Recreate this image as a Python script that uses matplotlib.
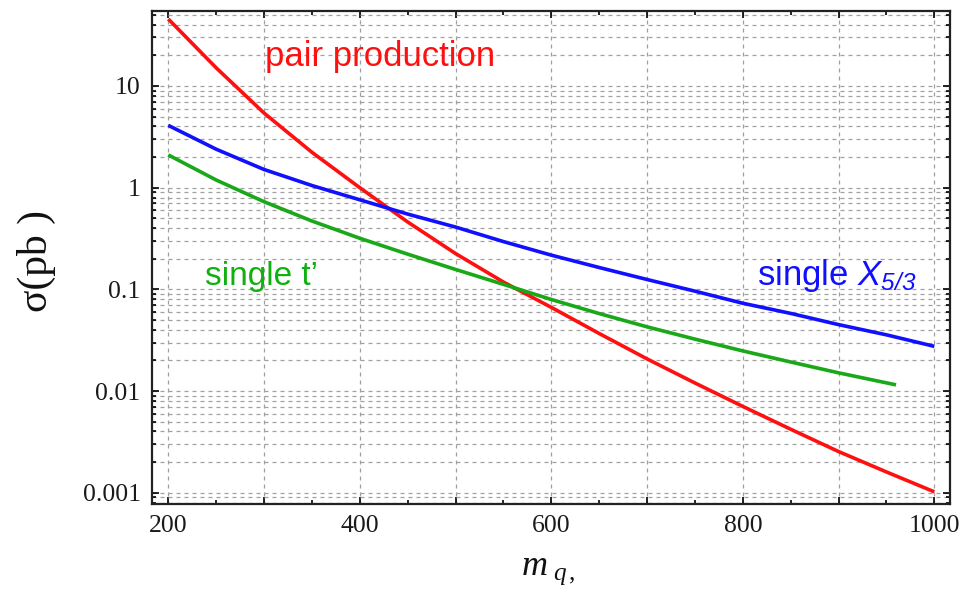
import matplotlib
matplotlib.use("Agg")
import matplotlib.pyplot as plt
from matplotlib.ticker import MultipleLocator, LogLocator, FuncFormatter, NullFormatter

plt.rcParams['mathtext.fontset'] = 'custom'
plt.rcParams['mathtext.rm'] = 'Liberation Serif'
plt.rcParams['mathtext.it'] = 'Liberation Serif:italic'
plt.rcParams['mathtext.sf'] = 'Liberation Sans:italic'

# masses (GeV) and cross sections (pb)
mass = [200, 250, 300, 350, 400, 450, 500, 550, 600, 650, 700, 750, 800, 850, 900, 950, 1000]
pair_xs = [45.6, 15.1, 5.42, 2.23, 1.0, 0.46, 0.225, 0.118, 0.0665, 0.0368, 0.0207, 0.012,
           0.00706, 0.00421, 0.00254, 0.0016, 0.00102]
x53_xs = [4.1, 2.39, 1.51, 1.05, 0.76, 0.55, 0.41, 0.295, 0.217, 0.164, 0.125, 0.096,
          0.073, 0.058, 0.045, 0.0357, 0.0275]
mass_t = [200, 250, 300, 350, 400, 450, 500, 550, 600, 650, 700, 750, 800, 850, 900, 960]
tprime_xs = [2.1, 1.19, 0.728, 0.47, 0.318, 0.222, 0.157, 0.112, 0.0795, 0.0578, 0.0428,
             0.0324, 0.0248, 0.0193, 0.0151, 0.0115]

red = '#ff1010'
blue = '#1010ff'
green = '#18a818'

fig = plt.figure(figsize=(9.65, 5.92), dpi=100)
ax = fig.add_axes([0.1572, 0.1486, 0.8273, 0.8333])

ax.plot(mass, pair_xs, color=red, lw=2.6, solid_capstyle='butt')
ax.plot(mass, x53_xs, color=blue, lw=2.6, solid_capstyle='butt')
ax.plot(mass_t, tprime_xs, color=green, lw=2.6, solid_capstyle='butt')

ax.set_yscale('log')
ax.set_xlim(182.7, 1016.4)
ax.set_ylim(7.74e-4, 55.0)

ax.xaxis.set_major_locator(MultipleLocator(100))
ax.xaxis.set_minor_locator(MultipleLocator(50))
ax.xaxis.set_major_formatter(FuncFormatter(lambda v, p: '%d' % v if int(round(v)) % 200 == 0 else ''))
ax.yaxis.set_major_locator(LogLocator(base=10, numticks=20))
ax.yaxis.set_minor_locator(LogLocator(base=10, subs=range(2, 10), numticks=20))
ax.yaxis.set_major_formatter(FuncFormatter(lambda v, p: '%g' % v))
ax.yaxis.set_minor_formatter(NullFormatter())

ax.tick_params(which='both', direction='in', top=True, right=True, width=1.2, colors='black')
ax.tick_params(which='major', length=5, labelsize=18.5, pad=8)
ax.tick_params(which='minor', length=3)
for lab in ax.get_xticklabels() + ax.get_yticklabels():
    lab.set_family('Liberation Serif')
    lab.set_color('#1a1a1a')

grid_style = dict(color='#a0a0a0', lw=0.9, linestyle=(0, (3.2, 3.2)))
ax.grid(True, which='major', axis='x', **grid_style)
ax.grid(True, which='both', axis='y', **grid_style)
ax.set_axisbelow(True)

for sp in ax.spines.values():
    sp.set_linewidth(1.6)
    sp.set_color('#222222')

ax.set_ylabel('σ(pb )', fontsize=30, family='Liberation Serif', color='#111111')
ax.yaxis.set_label_coords(-0.1437, 0.4926)
ax.yaxis.label.set_va('center')
ax.set_xlabel(r'$m_{\ q\,,}$', fontsize=26, color='#111111')
ax.xaxis.set_label_coords(0.4965, -0.134)
ax.xaxis.label.set_va('center')

ax.text(421, 19.6, 'pair production', color=red, fontsize=25, family='Liberation Sans',
        ha='center', va='center')
ax.text(297, 0.134, "single t\u2019", color='#10b010', fontsize=24, family='Liberation Sans',
        ha='center', va='center')
ax.text(898, 0.137, r'single $\mathsf{X}_{\mathsf{5/3}}$', color=blue, fontsize=25,
        family='Liberation Sans', ha='center', va='center')

fig.savefig('out.png', dpi=100)
